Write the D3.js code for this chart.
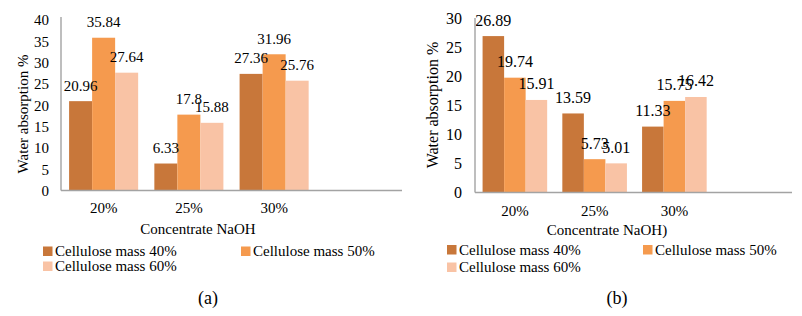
<!DOCTYPE html>
<html>
<head>
<meta charset="utf-8">
<script src="https://cdn.jsdelivr.net/npm/d3@7"></script>
<style>
  html, body { margin: 0; padding: 0; background: #fff; }
  svg text { font-family: "Liberation Serif", Tinos, "Times New Roman", "DejaVu Serif", serif; fill: #000; }
</style>
</head>
<body>
<div id="chart"></div>
<script>
// categories on the x axis (an empty 4th slot is kept, as in the original)
const categories = ["20%", "25%", "30%"];
const seriesNames = ["Cellulose mass 40%", "Cellulose mass 50%", "Cellulose mass 60%"];
const colors = ["#C8773A", "#F59A4E", "#F9C3A5"];
const serif = '"Liberation Serif", Tinos, "Times New Roman", "DejaVu Serif", serif';

// panel (a)
const valuesA40 = [20.96, 6.33, 27.36];
const valuesA50 = [35.84, 17.8, 31.96];
const valuesA60 = [27.64, 15.88, 25.76];
const labelsA = [["20.96", "6.33", "27.36"], ["35.84", "17.8", "31.96"], ["27.64", "15.88", "25.76"]];
const ticksA = [0, 5, 10, 15, 20, 25, 30, 35, 40];

// panel (b)
const valuesB40 = [26.89, 13.59, 11.33];
const valuesB50 = [19.74, 5.73, 15.75];
const valuesB60 = [15.91, 5.01, 16.42];
const labelsB = [["26.89", "13.59", "11.33"], ["19.74", "5.73", "15.75"], ["15.91", "5.01", "16.42"]];
const ticksB = [0, 5, 10, 15, 20, 25, 30];

const svg = d3.select("#chart").append("svg")
    .attr("width", 802)
    .attr("height", 316);

svg.append("rect").attr("width", 802).attr("height", 316).attr("fill", "#fff");

function drawPanel(cfg) {
    const g = svg.append("g").attr("font-family", serif);
    const series = [cfg.v40, cfg.v50, cfg.v60];

    const x = d3.scaleBand()
        .domain(categories.concat([""]))
        .range([cfg.left, cfg.right])
        .paddingInner(0.19)
        .paddingOuter(0.095);
    const xs = d3.scaleBand()
        .domain(d3.range(series.length))
        .range([0, x.bandwidth()]);
    const y = d3.scaleLinear()
        .domain([0, cfg.max])
        .range([cfg.base, cfg.top]);

    // bars
    series.forEach(function(vals, si) {
        g.selectAll(null)
            .data(vals)
            .enter().append("rect")
            .attr("x", (d, i) => x(categories[i]) + xs(si))
            .attr("y", d => y(d))
            .attr("width", xs.bandwidth())
            .attr("height", d => y(0) - y(d))
            .attr("fill", colors[si]);
    });

    // data labels (drawn after bars so they overlap like the original)
    series.forEach(function(vals, si) {
        g.selectAll(null)
            .data(vals)
            .enter().append("text")
            .attr("x", (d, i) => x(categories[i]) + xs(si) + xs.bandwidth() / 2)
            .attr("y", d => y(d) - cfg.labelGap)
            .attr("text-anchor", "middle")
            .style("font-family", serif)
            .style("font-size", cfg.fs + "px")
            .text((d, i) => cfg.labels[si][i]);
    });

    // axis lines
    g.append("line")
        .attr("x1", cfg.left).attr("x2", cfg.left)
        .attr("y1", cfg.axisTop).attr("y2", y(0))
        .attr("stroke", "#A3A3A3").attr("stroke-width", 1.4);
    g.append("line")
        .attr("x1", cfg.left).attr("x2", cfg.axisRight)
        .attr("y1", y(0)).attr("y2", y(0))
        .attr("stroke", "#A3A3A3").attr("stroke-width", 1.4);

    // y tick labels
    const yAxis = d3.axisLeft(y).tickValues(cfg.ticks).tickSize(0).tickPadding(0);
    const ya = g.append("g")
        .attr("transform", `translate(${cfg.tickX},0)`)
        .call(yAxis)
        .attr("font-family", serif);
    ya.select(".domain").remove();
    ya.selectAll("text")
        .style("font-family", serif)
        .style("font-size", cfg.fs + "px")
        .attr("fill", "#000");

    // x category labels
    g.selectAll(null)
        .data(categories)
        .enter().append("text")
        .attr("x", d => x(d) + x.bandwidth() / 2)
        .attr("y", cfg.catY)
        .attr("text-anchor", "middle")
        .style("font-family", serif)
        .style("font-size", "15px")
        .text(d => d);

    // axis titles
    g.append("text")
        .attr("transform", `translate(${cfg.yTitleX},${cfg.yTitleY}) rotate(-90)`)
        .attr("text-anchor", "middle")
        .style("font-family", serif)
        .style("font-size", cfg.fs + "px")
        .text("Water absorption %");
    g.append("text")
        .attr("x", cfg.xTitleX)
        .attr("y", cfg.xTitleY)
        .attr("text-anchor", "middle")
        .style("font-family", serif)
        .style("font-size", "15px")
        .text(cfg.xTitle);

    // legend
    const legendPos = [
        [cfg.legX1, cfg.legY1],
        [cfg.legX2, cfg.legY1],
        [cfg.legX1, cfg.legY2]
    ];
    seriesNames.forEach(function(name, si) {
        const p = legendPos[si];
        g.append("rect")
            .attr("x", p[0]).attr("y", p[1] - 9.5)
            .attr("width", 9.5).attr("height", 9.5)
            .attr("fill", colors[si]);
        g.append("text")
            .attr("x", p[0] + 12)
            .attr("y", p[1])
            .style("font-family", serif)
            .style("font-size", "15px")
            .text(name);
    });

    // panel caption
    g.append("text")
        .attr("x", cfg.capX)
        .attr("y", 304)
        .attr("text-anchor", "middle")
        .style("font-family", serif)
        .style("font-size", "18px")
        .text(cfg.caption);
}

drawPanel({
    v40: valuesA40, v50: valuesA50, v60: valuesA60, labels: labelsA, ticks: ticksA,
    max: 40, left: 61, right: 402, axisRight: 402, base: 190.5, top: 20, axisTop: 17,
    fs: 15, labelGap: 10.5, tickX: 49, catY: 213,
    yTitleX: 28, yTitleY: 114, xTitle: "Concentrate NaOH", xTitleX: 198, xTitleY: 234,
    legX1: 43, legX2: 241, legY1: 256, legY2: 271, capX: 208, caption: "(a)"
});

drawPanel({
    v40: valuesB40, v50: valuesB50, v60: valuesB60, labels: labelsB, ticks: ticksB,
    max: 30, left: 475, right: 794, axisRight: 792, base: 192.5, top: 18, axisTop: 18,
    fs: 16, labelGap: 10.5, tickX: 462, catY: 215.5,
    yTitleX: 438, yTitleY: 105, xTitle: "Concentrate NaOH)", xTitleX: 607, xTitleY: 234.5,
    legX1: 447, legX2: 643, legY1: 254.5, legY2: 272, capX: 617, caption: "(b)"
});
</script>
</body>
</html>
